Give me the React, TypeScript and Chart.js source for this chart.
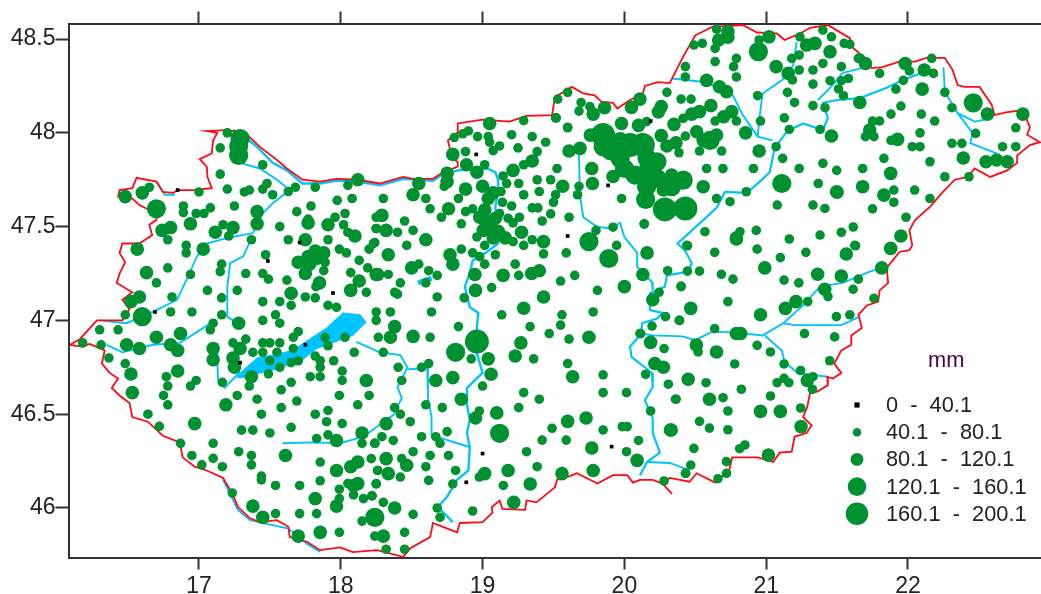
import React, { useEffect, useRef } from "react";
import { Chart, registerables } from "chart.js";

Chart.register(...registerables);

type P = number[];

const xTicksFont = '"Liberation Sans", Arial, sans-serif';

const band0: P[] = [[16.85,47.695],[16.69,47.045],[17.486,47.317],[17.945,47.146],[17.75,46.87],[18.955,47.885],[19.885,47.72],[19.60,47.45],[19.00,46.29],[18.885,46.137],[19.91,46.327],[20.185,48.063],[17.71,47.415],[17.29,46.775]];

const band40: P[] = [
[17.20,48.00],[17.15,47.92],[17.45,47.83],[17.15,47.78],[17.48,47.73],[17.45,47.70],[17.52,47.67],[17.20,47.70],[17.32,47.685],[17.355,47.695],[17.68,47.71],[17.63,47.687],[17.82,47.71],[18.05,47.72],[17.975,47.64],[18.08,47.65],[17.79,47.61],[17.69,47.58],[18.03,47.57],[17.96,47.55],[17.77,47.54],[18.02,47.51],[18.05,47.47],[18.25,47.55],[18.25,47.49],[17.57,47.50],[17.63,47.43],[17.91,47.43],[18.24,47.415],[18.20,47.38],[17.99,47.38],[18.04,47.36],[17.88,47.265],[17.89,47.31],[18.13,47.32],[18.19,47.28],[18.07,47.255],[18.18,47.15],[17.825,47.18],[17.65,47.08],[17.75,47.125],[17.82,47.12],[17.91,47.08],[17.97,47.07],[17.62,47.215],[17.45,47.25],[17.49,47.22],[17.33,47.25],[17.47,47.35],[17.16,47.30],[17.15,47.26],[17.27,47.16],[17.06,47.16],[17.16,47.12],[17.16,47.03],[17.45,47.10],[17.57,47.10],[17.54,47.03],[17.45,47.00],[17.57,46.985],[17.10,46.985],[17.08,46.95],[16.95,47.045],[16.80,47.045],[16.81,47.125],[16.48,47.03],[16.70,47.20],[16.78,47.28],[16.94,47.245],[16.30,46.95],[16.43,46.95],[16.91,47.40],[16.91,47.36],[17.37,47.43],[17.21,47.45],[17.17,47.51],[17.25,47.61],[16.98,47.57],[17.035,47.57],[17.08,47.60],[16.89,47.61],[16.89,47.575],[16.78,47.43],[16.65,47.71],[17.00,47.685],
[16.18,46.88],[16.31,46.87],[16.365,46.80],[16.48,46.77],[16.77,46.70],[16.78,46.65],[16.98,46.68],[16.94,46.65],[16.75,46.60],[16.78,46.55],[16.64,46.50],[16.72,46.435],[16.87,46.345],[16.95,46.28],[17.02,46.23],[17.10,46.345],[17.10,46.265],[17.165,46.22],[17.28,46.30],[17.37,46.28],[17.37,46.23],[17.30,46.415],[17.38,46.415],[17.50,46.40],[17.65,46.43],[17.44,46.17],[17.44,46.15],[17.54,46.12],[17.71,46.12],[17.235,46.08],[17.54,45.97],[17.71,45.97],[17.83,45.97],[17.99,45.87],[18.15,45.93],[18.24,45.85],[17.99,46.05],[17.99,46.10],[17.855,46.145],[18.09,46.07],[18.05,46.13],[18.16,46.05],[18.22,46.065],[18.25,46.13],[18.26,46.20],[17.855,46.245],[18.215,46.263],[17.83,46.37],[17.91,46.39],[18.15,46.345],[18.24,46.345],[18.01,46.45],[17.90,46.46],[17.91,46.52],[17.82,46.50],[17.69,46.57],[17.58,46.535],[17.58,46.63],[17.44,46.50],[17.41,46.58],[17.27,46.60],[17.165,46.67],[17.355,46.65],[17.49,46.715],[17.65,46.67],[17.785,46.70],[17.855,46.70],[18.01,46.68],[18.01,46.73],[18.12,46.55],[18.20,46.60],[17.99,46.60],[17.95,46.785],[18.095,46.83],[17.855,46.785],[17.855,46.75],[17.82,46.81],[17.70,46.785],[17.65,46.775],[17.57,46.75],[17.50,46.785],[17.665,46.85],[17.55,46.83],[17.45,46.83],[17.38,46.83],[17.45,46.88],[17.50,46.88],[17.57,46.88],[17.33,46.90],[17.24,46.88],[17.91,46.865],[17.89,46.91],[18.03,46.91],[17.70,46.94],[17.665,46.91],
[19.29,48.065],[19.515,48.08],[19.60,48.03],[18.90,48.01],[18.86,47.995],[18.965,47.98],[19.04,47.98],[19.205,47.99],[19.35,47.98],[19.445,47.95],[19.12,47.93],[19.25,47.92],[19.05,47.95],[19.075,47.905],[18.80,47.975],[18.88,47.90],[19.385,47.90],[19.29,47.83],[19.015,47.83],[19.525,47.81],[18.73,47.715],[18.30,47.65],[18.60,47.65],[18.63,47.595],[18.71,47.55],[18.93,47.595],[18.88,47.58],[18.83,47.65],[19.145,47.77],[19.17,47.73],[19.13,47.687],[19.14,47.63],[19.205,47.61],[19.255,47.73],[19.29,47.67],[19.385,47.75],[19.40,47.687],[19.48,47.75],[19.515,47.67],[19.50,47.63],[19.35,47.60],[19.39,47.60],[19.48,47.568],[19.42,47.53],[19.61,47.55],[19.68,47.715],[19.67,47.67],[19.98,47.65],[20.14,47.515],[19.92,47.497],[19.80,47.48],[19.945,47.40],[19.59,47.36],[19.43,47.355],[19.35,47.43],[19.29,47.40],[19.12,47.57],[19.18,47.545],[19.215,47.52],[19.26,47.55],[18.96,47.445],[19.215,47.42],[18.85,47.515],[19.015,47.40],[19.09,47.35],[19.015,47.30],[18.93,47.36],[18.98,47.34],[18.85,47.38],[19.23,47.30],[19.255,47.24],[19.55,47.21],[19.65,47.24],[19.064,47.175],[18.87,47.12],[19.81,47.16],[20.305,47.265],[20.40,47.18],[20.44,47.40],[20.245,47.15],[20.29,47.02],[20.39,47.00],[20.195,46.97],[19.135,47.03],[19.56,47.03],[19.55,46.975],[19.78,47.045],[19.335,46.967],[18.83,46.967],[19.47,46.93],[20.11,46.93],
[18.45,47.53],[18.25,47.49],[18.40,47.47],[18.51,47.48],[18.465,47.40],[18.23,47.41],[18.55,47.30],[18.62,47.265],[18.68,47.24],[18.60,47.20],[18.335,47.245],[18.42,47.20],[18.38,47.15],[18.40,47.14],[18.68,47.125],[18.64,47.045],[18.35,47.045],[18.25,47.045],[18.25,47.00],[18.265,46.91],[18.63,46.91],
[18.30,46.83],[18.92,46.795],[19.36,46.795],[19.61,46.90],[19.60,46.77],[19.85,46.71],[19.85,46.615],[20.015,46.615],[18.405,46.75],[18.57,46.75],[18.62,46.77],[19.00,46.65],[18.43,46.68],[18.60,46.55],[18.716,46.535],[18.38,46.535],[18.42,46.50],[18.49,46.46],[18.977,46.517],[19.29,46.615],[19.40,46.58],[19.255,46.535],[19.85,46.416],[19.985,46.434],[20.02,46.434],[19.49,46.425],[19.42,46.362],[19.59,46.362],[18.75,46.407],[18.67,46.38],[18.70,46.345],[18.57,46.38],[18.29,46.38],[18.37,46.36],[18.24,46.345],[20.015,46.30],[20.10,46.36],[19.31,46.30],[18.76,46.28],[18.63,46.28],[18.51,46.30],[18.43,46.263],[18.60,46.22],[18.81,46.20],[18.977,46.165],[19.385,46.22],[18.42,46.165],[18.26,46.20],[18.62,46.147],[18.79,46.128],[19.146,46.12],[18.25,46.128],[18.93,45.984],[18.70,45.95],[18.68,46.00],[18.30,46.03],[18.51,45.966],[18.45,45.87],[18.32,45.78],[18.45,45.78],[18.22,46.065],[20.185,46.517],[20.365,46.58],[20.31,46.66],[20.15,46.713],[20.28,46.85],[20.115,46.93],[20.28,46.144],[20.43,46.185],
[20.65,48.553],[20.64,48.45],[20.49,48.468],[20.55,48.477],[20.95,48.495],[20.64,48.38],[20.79,48.397],[20.77,48.353],[20.79,48.298],[20.43,48.353],[20.43,48.298],[20.30,48.216],[20.40,48.18],[20.47,48.18],[19.60,48.216],[19.53,48.18],[19.695,48.162],[19.68,48.116],[19.52,48.08],[19.757,48.14],[20.415,48.077],[20.64,48.063],[20.79,48.063],[19.60,48.027],[20.94,48.198],[20.96,48.063],[21.07,47.926],[21.116,47.864],[21.128,48.08],[21.163,48.018],[21.38,48.018],[21.15,48.216],[21.20,48.162],[21.33,48.145],[21.415,48.134],[21.185,48.282],[21.233,48.335],[21.18,48.397],[21.233,48.415],[21.33,48.335],[21.40,48.37],[21.33,48.26],[21.45,48.278],[21.53,48.353],[21.53,48.278],[21.58,48.29],[21.51,48.234],[21.545,48.198],[21.65,48.162],[21.40,48.548],[21.46,48.512],[21.238,48.512],[21.55,48.477],[21.59,48.472],[21.65,48.397],
[20.157,48.06],[20.43,47.983],[20.385,47.894],[20.53,47.903],[20.686,47.903],[20.58,47.81],[20.695,47.81],[20.91,47.81],[20.65,47.65],[20.745,47.633],[20.86,47.686],[21.233,47.81],[21.40,47.837],[21.497,47.80],[21.367,47.73],[21.078,47.615],[21.33,47.615],[21.414,47.597],[20.14,47.514],[20.568,47.473],[20.815,47.473],[20.93,47.48],[21.163,47.434],[21.38,47.455],[21.53,47.47],[21.614,47.498],[21.625,47.40],
[22.01,48.33],[21.80,48.317],[21.666,48.397],[22.167,48.397],[22.18,48.317],[21.967,48.28],[21.915,48.233],[22.26,48.216],[22.31,48.134],[22.76,48.027],[22.477,47.997],[22.31,47.944],[22.38,47.944],[22.667,47.926],[22.76,47.926],[22.43,47.766],[22.26,47.766],[22.155,47.846],[22.085,48.00],[22.094,48.10],[22.188,48.063],[21.95,48.143],[21.88,48.10],[21.88,47.96],[22.03,47.926],[22.085,47.926],[21.75,48.063],[21.80,48.063],[21.70,47.98],[21.76,47.98],[21.83,47.864],[21.68,47.81],[21.90,47.695],[21.90,47.63],[22.047,47.695],[22.155,47.65],[21.75,47.595],[21.986,47.55],
[21.63,47.398],[20.936,47.38],[21.10,47.335],[21.28,47.363],[20.637,47.363],[20.445,47.398],[20.445,47.263],[20.53,47.263],[20.684,47.246],[20.766,47.22],[21.126,47.215],[21.23,47.20],[20.40,47.183],[20.73,47.10],[21.65,47.22],[21.613,47.166],[21.436,47.127],[21.76,47.118],[21.293,47.10],[20.386,47.00],[21.495,47.02],[21.59,47.03],[20.637,46.956],[21.27,46.93],[21.483,46.912],[20.52,46.832],[20.936,46.867],[21.03,46.832],[21.448,46.785],[20.778,46.768],[21.126,46.768],[21.243,46.733],[20.445,46.688],[20.576,46.668],[20.825,46.633],[21.126,46.691],[21.077,46.668],[21.16,46.668],[21.33,46.70],[21.326,46.633],[21.03,46.597],[20.696,46.588],[20.36,46.58],[20.73,46.517],[21.243,46.533],[20.53,46.462],[20.60,46.426],[20.73,46.417],[20.49,46.318],[20.85,46.336],[20.813,46.316],[20.72,46.247],[20.72,46.185],[20.66,46.156],[20.468,46.229],[20.433,46.185]
];

const band80: P[] = [
[18.12,47.75],[17.77,47.52],[17.91,47.51],[18.10,47.45],[17.75,47.43],[17.82,47.37],[17.77,47.34],[17.88,47.36],[17.70,47.31],[17.78,47.30],[17.75,47.25],[17.83,47.33],[18.25,47.245],[18.13,47.21],[18.07,47.16],[17.85,47.20],[17.65,47.145],[17.28,46.985],[16.52,47.10],[16.58,47.125],[16.63,47.255],[16.565,47.38],[17.03,47.38],[17.115,47.47],[17.24,47.495],[17.41,47.515],[17.41,47.58],[16.94,47.515],[16.80,47.495],[16.74,47.48],[16.48,47.66],[16.60,47.68],
[16.70,46.91],[16.87,46.93],[16.49,46.87],[16.58,46.85],[16.80,46.87],[16.85,46.84],[16.52,46.714],[16.85,46.73],[16.53,46.615],[16.97,46.45],[17.61,46.28],[17.38,46.01],[17.45,45.95],[17.82,46.05],[17.70,45.85],[17.855,45.87],[17.97,46.01],[18.09,46.12],[18.12,46.13],[17.97,46.20],[18.07,46.22],[18.12,46.245],[17.97,46.36],[18.15,46.40],[17.19,46.55],[17.37,46.70],[18.18,46.68],[17.10,46.85],[17.10,46.79],[17.24,46.80],[17.25,46.75],[17.29,46.85],
[19.05,48.05],[18.79,47.885],[19.35,47.85],[19.215,47.80],[18.887,47.83],[18.96,47.79],[18.75,47.785],[18.75,47.74],[18.55,47.73],[18.51,47.67],[18.76,47.595],[18.88,47.70],[19.00,47.715],[19.565,47.715],[19.77,47.81],[19.775,47.73],[19.92,47.767],[19.43,47.42],[19.275,47.47],[19.04,47.65],[19.075,47.68],[19.016,47.59],[19.016,47.535],[19.05,47.50],[19.11,47.475],[19.005,47.48],[19.075,47.44],[19.16,47.44],[18.98,47.55],[19.09,47.545],[18.77,47.35],[18.79,47.30],[18.946,47.245],[19.145,47.24],[19.346,47.25],[19.40,47.265],[18.95,47.16],[19.43,47.125],[20.00,47.18],[20.16,47.36],[20.13,47.245],[20.20,47.11],[19.29,47.065],
[18.29,47.56],[18.32,47.48],[18.60,47.43],[18.335,47.35],[18.50,47.28],[18.26,47.245],[18.38,46.967],[18.51,46.915],[18.35,46.91],[19.04,46.795],[19.27,46.88],[19.23,46.81],[19.75,46.91],[19.635,46.70],[18.67,46.68],[18.79,46.695],[19.06,46.713],[18.85,46.58],[18.32,46.45],[18.95,46.48],[19.10,46.507],[19.60,46.462],[19.73,46.48],[19.77,46.32],[20.09,46.254],[18.32,46.263],[18.465,46.228],[19.015,46.183],[19.18,46.20],[18.335,46.183],[19.56,46.183],[19.78,46.20],[19.336,46.128],[19.22,46.03],[18.38,46.00],[18.30,45.85],[20.325,46.416],[20.45,46.686],[20.275,46.75],[20.215,46.77],[20.185,46.883],
[20.73,48.51],[20.73,48.54],[20.665,48.495],[21.02,48.512],[20.58,48.28],[20.67,48.246],[20.72,48.22],[19.86,48.134],[19.78,48.10],[20.11,48.18],[20.05,48.136],[20.26,48.14],[20.24,48.112],[20.61,48.145],[20.53,48.113],[20.475,48.10],[20.35,48.045],[20.70,48.086],[20.757,48.113],[20.855,48.00],[20.95,47.903],[21.46,47.983],[21.07,48.353],[21.155,48.317],[21.285,48.468],[21.344,48.477],[21.45,48.432],
[19.76,47.988],[19.98,48.05],[20.10,48.04],[19.687,47.917],[19.61,47.903],[20.26,47.985],[20.30,47.93],[20.364,47.947],[20.51,48.006],[20.556,47.96],[20.65,47.988],[20.333,47.775],[20.275,47.695],[20.556,47.713],[21.497,47.686],[20.79,47.44],
[21.98,48.37],[21.70,48.37],[22.115,48.335],[22.10,48.233],[22.56,48.10],[22.81,48.10],[22.39,47.866],[22.55,47.846],[22.625,47.855],[22.70,47.846],[21.927,47.965],[21.73,48.015],[21.66,48.162],[21.878,47.784],[21.68,47.713],[21.50,47.683],[21.83,47.668],[21.95,47.45],[21.878,47.384],
[21.565,47.354],[20.79,47.434],[20.99,47.28],[21.363,47.246],[21.53,47.237],[21.815,47.28],[21.413,47.166],[21.21,47.10],[21.135,47.064],[20.468,47.064],[20.96,47.03],[20.79,46.93],[20.82,46.93],[20.508,46.869],[20.65,46.832],[21.29,46.68],[20.60,46.58],[20.96,46.515],[21.10,46.515],[21.246,46.434],[20.33,46.416],[21.016,46.282]
];

const band120: P[] = [[17.28,47.88],[17.28,47.93],[17.29,47.97],[16.70,47.595],[16.60,47.02],[18.24,45.95],[19.75,47.42],[19.89,47.33],[18.81,46.83],[19.12,46.398],[20.945,48.433],[21.11,47.73],[22.46,48.16],[19.97,47.864],[20.00,47.81],[20.16,47.864],[20.23,47.846],[20.075,47.775],[20.16,47.793],[20.23,47.757],[20.415,47.748],[20.333,47.713],[20.15,47.645],[20.157,47.713],[19.85,47.926],[19.97,47.953],[20.604,47.96]];

const band160: P[] = [[18.96,46.887],[19.85,47.988],[19.91,47.917],[20.04,47.935],[20.13,47.935],[20.286,47.592],[20.43,47.597]];

const border: P[] = [[16.09,46.87],[16.16,46.90],[16.28,47.00],[16.46,47.00],[16.51,47.06],[16.46,47.11],[16.53,47.15],[16.42,47.20],[16.44,47.25],[16.48,47.31],[16.44,47.36],[16.46,47.41],[16.58,47.41],[16.67,47.455],[16.65,47.51],[16.70,47.535],[16.70,47.57],[16.58,47.615],[16.53,47.65],[16.43,47.66],[16.44,47.695],[16.53,47.705],[16.56,47.76],[16.70,47.74],[16.745,47.685],[16.82,47.68],[16.85,47.695],[16.96,47.695],[17.09,47.705],[17.06,47.765],[17.055,47.82],[17.005,47.86],[17.09,47.89],[17.10,47.96],[17.13,48.00],[17.055,48.01],[17.20,48.015],[17.325,48.00],[17.43,47.925],[17.55,47.855],[17.62,47.81],[17.73,47.75],[17.855,47.74],[17.97,47.755],[18.12,47.75],[18.275,47.73],[18.44,47.765],[18.51,47.755],[18.65,47.755],[18.71,47.785],[18.825,47.82],[18.825,47.845],[18.785,47.865],[18.755,47.96],[18.82,48.00],[18.825,48.05],[19.00,48.07],[19.19,48.06],[19.31,48.09],[19.49,48.095],[19.51,48.19],[19.63,48.245],[19.71,48.21],[19.79,48.20],[19.84,48.165],[19.92,48.16],[19.95,48.13],[20.04,48.175],[20.13,48.21],[20.145,48.25],[20.235,48.27],[20.32,48.265],[20.41,48.40],[20.50,48.52],[20.62,48.565],[20.835,48.575],[20.935,48.535],[21.075,48.53],[21.13,48.495],[21.24,48.53],[21.31,48.56],[21.435,48.575],[21.59,48.505],[21.61,48.455],[21.67,48.415],[21.745,48.345],[21.82,48.35],[21.94,48.38],[22.05,48.38],[22.13,48.40],[22.26,48.40],[22.315,48.335],[22.35,48.255],[22.40,48.245],[22.505,48.245],[22.59,48.15],[22.61,48.095],[22.70,48.11],[22.81,48.12],[22.86,48.03],[22.84,47.99],[22.93,47.95],[22.86,47.935],[22.77,47.88],[22.77,47.84],[22.70,47.80],[22.58,47.765],[22.47,47.81],[22.42,47.765],[22.33,47.75],[22.24,47.68],[22.155,47.605],[22.05,47.535],[22.01,47.48],[22.03,47.40],[22.01,47.375],[21.94,47.365],[21.85,47.28],[21.86,47.20],[21.80,47.16],[21.79,47.10],[21.71,47.08],[21.65,47.03],[21.675,46.96],[21.60,46.92],[21.60,46.87],[21.53,46.84],[21.48,46.77],[21.53,46.72],[21.47,46.69],[21.43,46.70],[21.435,46.655],[21.36,46.62],[21.31,46.615],[21.29,46.54],[21.26,46.485],[21.32,46.44],[21.285,46.40],[21.20,46.38],[21.18,46.30],[21.095,46.295],[21.05,46.245],[20.94,46.27],[20.76,46.27],[20.74,46.20],[20.64,46.135],[20.51,46.185],[20.46,46.14],[20.32,46.16],[20.27,46.13],[20.335,46.075],[20.27,46.13],[20.20,46.15],[20.11,46.15],[20.06,46.135],[20.02,46.175],[19.92,46.175],[19.81,46.13],[19.665,46.185],[19.615,46.17],[19.525,46.15],[19.51,46.11],[19.38,46.03],[19.31,46.04],[19.30,45.99],[19.14,45.995],[19.12,46.04],[19.065,46.005],[19.07,45.975],[19.00,45.925],[18.84,45.92],[18.82,45.87],[18.77,45.885],[18.65,45.92],[18.63,45.845],[18.49,45.785],[18.44,45.74],[18.255,45.775],[18.085,45.765],[17.995,45.79],[17.855,45.775],[17.76,45.82],[17.64,45.845],[17.63,45.90],[17.55,45.935],[17.43,45.925],[17.36,45.945],[17.275,46.005],[17.24,46.07],[17.17,46.16],[17.055,46.20],[16.97,46.22],[16.885,46.27],[16.865,46.35],[16.745,46.385],[16.64,46.46],[16.53,46.485],[16.51,46.56],[16.44,46.60],[16.385,46.64],[16.43,46.69],[16.37,46.72],[16.315,46.77],[16.335,46.84],[16.23,46.875],[16.175,46.86],[16.09,46.87]];

const danube: P[] = [[17.24,48.015],[17.32,47.98],[17.41,47.925],[17.52,47.84],[17.62,47.80],[17.73,47.73],[17.855,47.73],[17.97,47.745],[18.12,47.74],[18.275,47.72],[18.44,47.755],[18.65,47.745],[18.71,47.775],[18.825,47.80],[19.03,47.81],[19.09,47.79],[19.11,47.75],[19.11,47.695],[19.09,47.605],[19.11,47.41],[19.02,47.36],[18.93,47.32],[18.91,47.25],[18.875,47.18],[18.91,47.07],[18.97,47.04],[18.96,46.965],[18.96,46.825],[19.00,46.72],[18.89,46.64],[18.89,46.55],[18.91,46.47],[18.89,46.40],[18.91,46.325],[18.90,46.20],[18.82,46.15],[18.75,46.06],[18.685,46.005],[18.79,45.925]];
const mosoni: P[] = [[17.29,47.84],[17.43,47.81],[17.55,47.75],[17.64,47.695]];
const raba: P[] = [[17.64,47.695],[17.52,47.625],[17.45,47.57],[17.38,47.465],[17.20,47.44],[17.055,47.41],[16.985,47.34],[16.92,47.23],[16.845,47.11],[16.70,47.055],[16.49,46.985],[16.30,47.00]];
const marcal: P[] = [[17.36,47.42],[17.31,47.34],[17.22,47.305],[17.20,47.18],[17.20,47.02],[17.29,46.975]];
const zalaUpper: P[] = [[16.35,46.87],[16.46,46.83],[16.675,46.87],[16.865,46.88],[16.99,46.94],[17.08,46.985]];
const zalaLower: P[] = [[17.13,46.88],[17.13,46.77],[17.135,46.68],[17.18,46.64],[17.29,46.725]];
const sio: P[] = [[18.11,46.885],[18.275,46.83],[18.42,46.815],[18.47,46.75],[18.40,46.645],[18.43,46.585],[18.37,46.495],[18.205,46.405],[18.11,46.37],[17.995,46.345],[17.80,46.35],[17.59,46.345]];
const sarviz: P[] = [[18.47,46.74],[18.61,46.745],[18.615,46.59],[18.64,46.485],[18.64,46.39],[18.82,46.345],[18.91,46.325]];
const lajta: P[] = [[16.70,47.74],[16.76,47.67],[16.83,47.67]];
const drava: P[] = [[17.17,46.15],[17.275,45.99],[17.36,45.935],[17.63,45.89],[17.76,45.81],[17.855,45.765]];
const tiszaHead: P[] = [[22.25,48.35],[22.26,48.22],[22.295,48.175],[22.35,48.105],[22.47,48.06],[22.54,48.07]];
const tiszaHeadB: P[] = [[22.35,48.105],[22.455,48.00],[22.44,47.945],[22.625,47.89]];
const tisza: P[] = [[22.10,48.32],[21.96,48.28],[21.85,48.24],[21.66,48.185],[21.50,48.175],[21.40,48.16],[21.435,48.08],[21.40,48.015],[21.26,48.05],[21.165,48.015],[21.145,48.005],[21.06,47.92],[21.025,47.79],[20.955,47.74],[20.865,47.68],[20.71,47.685],[20.65,47.60],[20.44,47.455],[20.375,47.41],[20.425,47.375],[20.475,47.305],[20.45,47.26],[20.30,47.24],[20.285,47.18],[20.18,47.145],[20.18,47.055],[20.27,47.04],[20.23,47.01],[20.125,46.985],[20.12,46.93],[20.04,46.86],[20.05,46.805],[20.195,46.72],[20.20,46.645],[20.145,46.575],[20.20,46.48],[20.20,46.40],[20.25,46.295],[20.16,46.245],[20.11,46.175]];
const maros: P[] = [[20.16,46.245],[20.32,46.24],[20.46,46.20]];
const koros: P[] = [[20.12,46.93],[20.20,46.92],[20.41,46.915],[20.50,46.895],[20.62,46.94],[20.79,46.935],[20.975,46.92],[21.12,46.985],[21.26,47.08],[21.38,47.18],[21.54,47.20],[21.73,47.26],[21.82,47.28]];
const korosNorth: P[] = [[21.12,46.985],[21.20,46.975],[21.53,46.975],[21.66,47.02]];
const korosSouth: P[] = [[20.99,46.92],[21.11,46.84],[21.13,46.78],[21.22,46.72],[21.43,46.70]];
const zagyva: P[] = [[19.68,47.89],[19.685,47.68],[19.71,47.55],[19.805,47.50],[19.90,47.49],[19.97,47.52],[20.00,47.445],[20.09,47.36],[20.09,47.285],[20.195,47.205],[20.20,47.16]];
const sajo: P[] = [[20.335,48.29],[20.58,48.27],[20.765,48.20],[20.835,48.095],[20.94,47.98],[21.045,47.96]];
const hernad: P[] = [[21.215,48.485],[21.19,48.36],[21.11,48.28],[20.975,48.21],[20.955,48.095],[20.94,47.98]];
const bodrog: P[] = [[21.54,48.32],[21.675,48.345]];
const ronyva: P[] = [[21.54,48.32],[21.45,48.24],[21.365,48.175]];
const velence: P[] = [[18.545,47.20],[18.64,47.225]];
const balaton: P[] = [[17.29,46.72],[17.41,46.80],[17.52,46.815],[17.66,46.84],[17.78,46.90],[17.90,46.96],[18.015,47.04],[18.135,47.03],[18.18,46.99],[18.085,46.92],[17.995,46.895],[17.83,46.85],[17.73,46.79],[17.52,46.735],[17.43,46.72],[17.34,46.695],[17.27,46.695],[17.29,46.72]];

const legendLabels = ["0  -  40.1", "40.1  -  80.1", "80.1  -  120.1", "120.1  -  160.1", "160.1  -  200.1"];
const legendTitle = "mm";
const xTickValues = [17, 18, 19, 20, 21, 22];

const GREEN = "#009130";
const CYAN = "#00C3FF";
const toXY = (a: P[]) => a.map(([x, y]) => ({ x, y }));

const riverDs = (data: P[], width = 1.9) => ({
  type: "scatter" as const,
  data: toXY(data),
  showLine: true,
  borderColor: CYAN,
  borderWidth: width,
  pointRadius: 0,
  tension: 0,
  order: 50,
});
const pointDs = (data: P[], r: number, color: string, style: string, order: number) => ({
  type: "scatter" as const,
  data: toXY(data),
  pointRadius: r,
  pointStyle: style,
  backgroundColor: color,
  borderWidth: 0,
  order,
  clip: false,
});

const legendPlugin = {
  id: "mapLegend",
  afterDraw(chart: any) {
    const ctx = chart.ctx;
    const markers = [
      { r: 2.6, c: "#000", sq: true },
      { r: 4.3, c: GREEN },
      { r: 6.4, c: GREEN },
      { r: 9.3, c: GREEN },
      { r: 11.3, c: GREEN },
    ];
    ctx.save();
    ctx.font = `21.8px ${xTicksFont}`;
    ctx.textBaseline = "middle";
    ctx.textAlign = "left";
    markers.forEach((m, i) => {
      const y = 405 + i * 27.2;
      ctx.fillStyle = m.c;
      if (m.sq) ctx.fillRect(857 - m.r, y - m.r, m.r * 2, m.r * 2);
      else {
        ctx.beginPath();
        ctx.arc(857, y, m.r, 0, Math.PI * 2);
        ctx.fill();
      }
      ctx.fillStyle = "#222";
      ctx.fillText(legendLabels[i], 886, y + 1);
    });
    ctx.fillStyle = "#4a004a";
    ctx.fillText(legendTitle, 928, 361);
    ctx.restore();
  },
};

const axisColor = "#333";
const tickFont = { family: xTicksFont, size: 23 };
const noPad = (s: any) => {
  s.paddingLeft = 0;
  s.paddingRight = 0;
  s.paddingTop = 0;
  s.paddingBottom = 0;
};

export default function App() {
  const ref = useRef<HTMLCanvasElement>(null);
  useEffect(() => {
    document.body.style.margin = "0";
    const chart = new Chart(ref.current!, {
      type: "scatter",
      data: {
        datasets: [
          { ...riverDs(balaton, 1), fill: "shape", backgroundColor: CYAN, order: 40 },
          riverDs(danube, 2.4), riverDs(mosoni), riverDs(raba), riverDs(marcal), riverDs(zalaUpper), riverDs(zalaLower),
          riverDs(sio), riverDs(sarviz), riverDs(lajta), riverDs(drava), riverDs(tiszaHead), riverDs(tiszaHeadB),
          riverDs(tisza, 2.2), riverDs(maros), riverDs(koros), riverDs(korosNorth), riverDs(korosSouth), riverDs(zagyva),
          riverDs(sajo), riverDs(hernad), riverDs(bodrog), riverDs(ronyva), riverDs(velence, 5),
          {
            type: "scatter",
            data: toXY(border),
            showLine: true,
            borderColor: "#FF0A14",
            borderWidth: 1.8,
            pointRadius: 0,
            tension: 0,
            order: 30,
            clip: false,
          },
          pointDs(band160, 12, GREEN, "circle", 10),
          pointDs(band120, 9.6, GREEN, "circle", 9),
          pointDs(band80, 6.8, GREEN, "circle", 8),
          pointDs(band40, 4.8, GREEN, "circle", 7),
          pointDs(band0, 2.6, "#000", "rect", 1),
        ] as any,
      },
      options: {
        responsive: false,
        animation: false,
        layout: { padding: 0 },
        plugins: { legend: { display: false }, tooltip: { enabled: false } },
        scales: {
          x: {
            type: "linear",
            position: "bottom",
            min: 16.08,
            max: 22.938,
            afterFit: (s: any) => { s.height = 36.5; noPad(s); },
            afterBuildTicks: (s: any) => { s.ticks = xTickValues.map((value) => ({ value })); },
            border: { color: axisColor, width: 2 },
            grid: { drawOnChartArea: false, tickLength: 12, tickColor: axisColor, tickWidth: 2 },
            ticks: { color: "#222", font: tickFont, padding: 3, maxRotation: 0, callback: (v: any) => String(v) },
          },
          xTop: {
            type: "linear",
            position: "top",
            min: 16.08,
            max: 22.938,
            afterFit: (s: any) => { s.height = 23.5; noPad(s); },
            afterBuildTicks: (s: any) => { s.ticks = xTickValues.map((value) => ({ value })); },
            border: { color: axisColor, width: 2 },
            grid: { drawOnChartArea: false, tickLength: 12, tickColor: axisColor, tickWidth: 2 },
            ticks: { color: "rgba(0,0,0,0)", font: { size: 1 }, padding: 0, callback: () => "" },
          },
          y: {
            type: "linear",
            position: "left",
            min: 45.736,
            max: 48.583,
            afterFit: (s: any) => { s.width = 68.5; noPad(s); },
            border: { color: axisColor, width: 2 },
            grid: { drawOnChartArea: false, tickLength: 13, tickColor: axisColor, tickWidth: 2 },
            ticks: { stepSize: 0.5, includeBounds: false, color: "#222", font: tickFont, padding: 0, callback: (v: any) => String(v) },
          },
        },
      } as any,
      plugins: [legendPlugin],
    });
    return () => chart.destroy();
  }, []);
  return (
    <div style={{ position: "absolute", left: 0, top: 0, width: 1041, height: 594, overflow: "hidden", background: "#fff" }}>
      <canvas ref={ref} width={1053} height={594} style={{ display: "block" }} />
    </div>
  );
}
